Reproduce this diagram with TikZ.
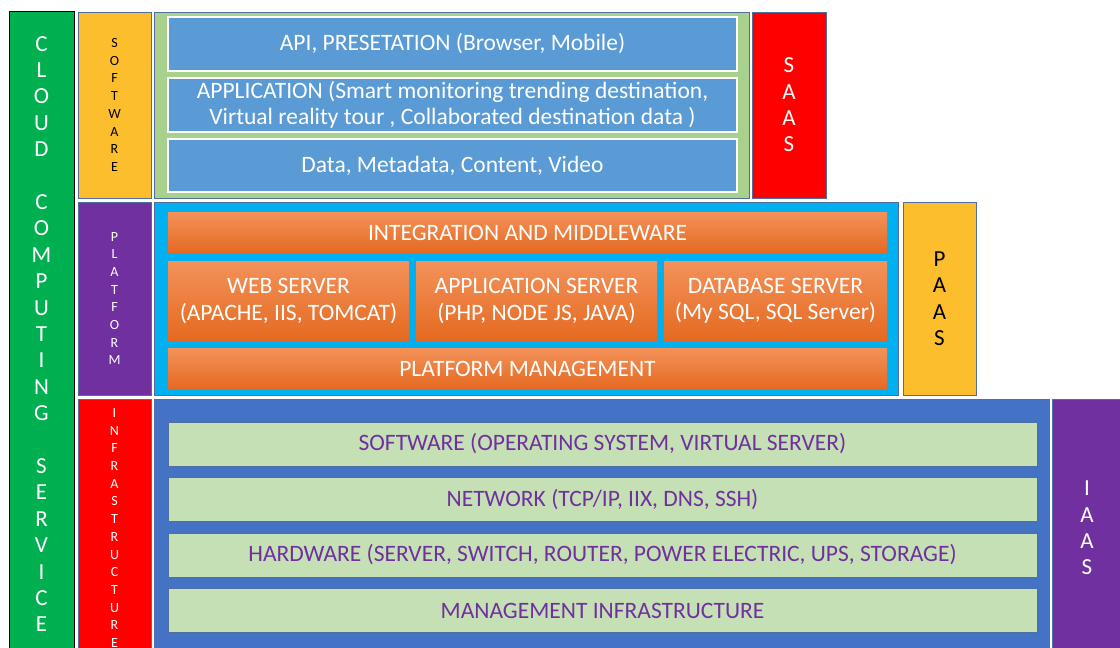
\documentclass[tikz,border=0pt]{standalone}
\usepackage{fontspec}
\setmainfont{Carlito}
\usetikzlibrary{positioning}
\definecolor{cloudgreen}{RGB}{0,176,80}
\definecolor{gold}{RGB}{252,190,45}
\definecolor{leafgreen}{RGB}{169,209,142}
\definecolor{skyblue}{RGB}{91,155,213}
\definecolor{alarmred}{RGB}{255,0,0}
\definecolor{plum}{RGB}{112,48,160}
\definecolor{cyanbg}{RGB}{0,176,240}
\definecolor{ortop}{RGB}{243,146,90}
\definecolor{orbot}{RGB}{229,105,32}
\definecolor{royal}{RGB}{68,114,196}
\definecolor{palegreen}{RGB}{197,224,180}
\definecolor{edge}{RGB}{80,110,160}
\tikzset{
  box/.style={draw=edge, line width=0.6pt, rectangle, anchor=north west, inner sep=0pt, outer sep=0pt, align=center},
  big/.style={font=\fontsize{23}{26.4}\selectfont},
  small/.style={font=\fontsize{14}{17.7}\selectfont},
  txt/.style={font=\fontsize{23.5}{26.5}\selectfont},
  tag/.style={box, minimum width=73pt, small},
  side/.style={box, minimum width=74pt, big},
  upper/.style={box, draw=white, line width=1.5pt, fill=skyblue, text=white, minimum width=569pt, txt},
  mid/.style={rectangle, anchor=north west, inner sep=0pt, outer sep=0pt, top color=ortop, bottom color=orbot, text=white, align=center, txt},
  lower/.style={box, draw=edge, fill=palegreen, text=plum, minimum width=869pt, minimum height=44pt, txt}
}
\begin{document}
\begin{tikzpicture}[x=1pt,y=-1pt]
\useasboundingbox (0,0) rectangle (1120,648);
\clip (0,0) rectangle (1120,648);

% left column
\node[box, draw=black, fill=cloudgreen, text=white, big, minimum width=65pt, minimum height=646pt] (cloud) at (9,11)
  {C\\L\\O\\U\\D\\~\\C\\O\\M\\P\\U\\T\\I\\N\\G\\~\\S\\E\\R\\V\\I\\C\\E};

% software
\node[tag, fill=gold, minimum height=186pt] (soft) at (78,12) {S\\O\\F\\T\\W\\A\\R\\E};
\node[box, fill=leafgreen, minimum width=595pt, minimum height=186pt] (softbg) at (154,12) {};
\node[upper, minimum height=54pt] (api) at (168,17) {API, PRESETATION (Browser, Mobile)};
\node[upper, minimum height=54pt] (app) [below=7pt of api]
  {APPLICATION (Smart monitoring trending destination,\\Virtual reality tour , Collaborated destination data )};
\node[upper, minimum height=53pt] (data) [below=7pt of app] {Data, Metadata, Content, Video};
\node[side, fill=alarmred, text=white, minimum height=186pt] (saas) at (752,12) {S\\A\\A\\S};

% platform
\node[tag, fill=plum, text=white, minimum height=193pt] (plat) at (78,202) {P\\L\\A\\T\\F\\O\\R\\M};
\node[box, fill=cyanbg, minimum width=744pt, minimum height=193pt] (platbg) at (154,202) {};
\node[mid, minimum width=719pt, minimum height=41pt] (integ) at (168,212) {INTEGRATION AND MIDDLEWARE};
\node[mid, minimum width=241pt, minimum height=80pt] (web) at (168,261) {WEB SERVER\\(APACHE, IIS, TOMCAT)};
\node[mid, minimum width=241pt, minimum height=80pt] (appsrv) [right=7pt of web] {APPLICATION SERVER\\(PHP, NODE JS, JAVA)};
\node[mid, minimum width=223pt, minimum height=80pt] (dbsrv) [right=7pt of appsrv] {DATABASE SERVER\\(My SQL, SQL Server)};
\node[mid, minimum width=719pt, minimum height=41pt] (pman) at (168,348) {PLATFORM MANAGEMENT};
\node[side, fill=gold, minimum width=73pt, minimum height=193pt] (paas) at (903,202) {P\\A\\A\\S};

% infrastructure
\node[tag, fill=alarmred, text=white, minimum height=258pt] (infra) at (78,399) {I\\N\\F\\R\\A\\S\\T\\R\\U\\C\\T\\U\\R\\E};
\node[box, fill=royal, minimum width=895pt, minimum height=258pt] (infrabg) at (154,399) {};
\node[lower] (os) at (168,422) {SOFTWARE (OPERATING SYSTEM, VIRTUAL SERVER)};
\node[lower] (net) [below=11.5pt of os] {NETWORK (TCP/IP, IIX, DNS, SSH)};
\node[lower] (hw) [below=11.5pt of net] {HARDWARE (SERVER, SWITCH, ROUTER, POWER ELECTRIC, UPS, STORAGE)};
\node[lower] (mgmt) [below=11.5pt of hw] {MANAGEMENT INFRASTRUCTURE};
\node[side, fill=plum, text=white, minimum width=70pt, minimum height=258pt] (iaas) at (1052,399) {I\\A\\A\\S};
\end{tikzpicture}
\end{document}
